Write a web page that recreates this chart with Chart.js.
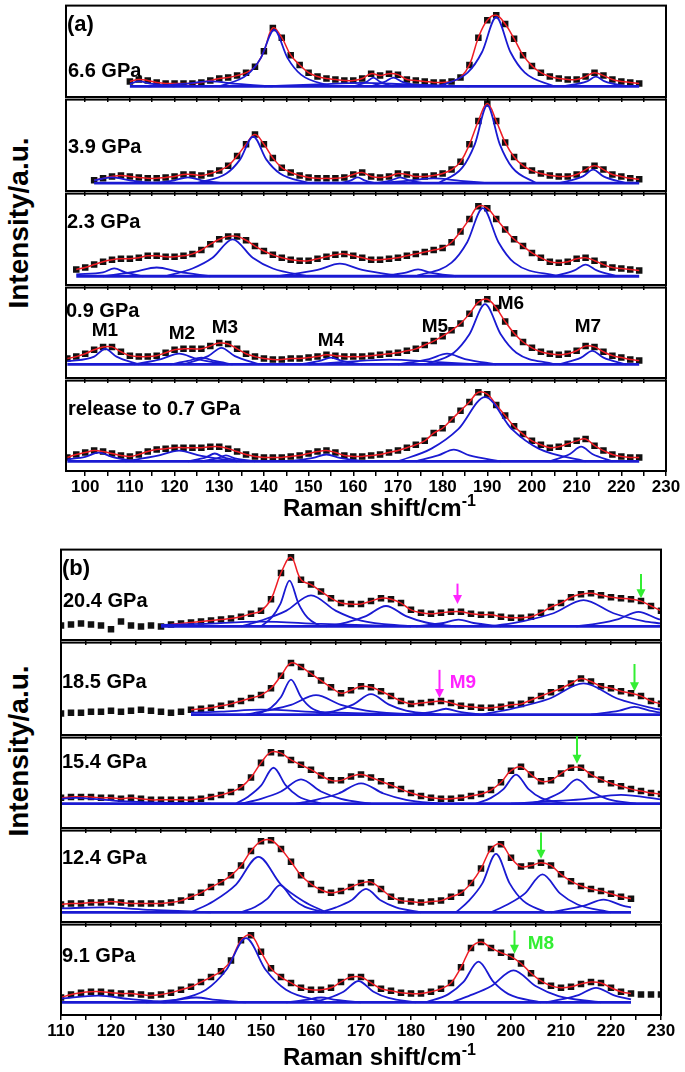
<!DOCTYPE html>
<html lang="en">
<head>
<meta charset="UTF-8">
<title>Raman spectra under pressure</title>
<script src="https://cdn.jsdelivr.net/npm/chart.js"></script>
<style>
  body { margin: 0; background: #fff; }
  #page { position: relative; width: 685px; height: 1072px; overflow: hidden;
          font-family: "Liberation Sans", Arial, sans-serif; font-weight: bold; color: #000; }
  canvas { position: absolute; }
  .lab { position: absolute; font-size: 20px; line-height: 1; white-space: nowrap; transform: translateY(-50%); }
  .mk { position: absolute; font-size: 19px; line-height: 1; transform: translate(-50%, -50%); }
  .xt { position: absolute; font-size: 24px; line-height: 1; white-space: nowrap; transform: translateY(-50%); }
  .xt span { font-size: 16px; position: relative; top: -10px; }
  .yt { position: absolute; font-size: 28px; line-height: 1; white-space: nowrap;
        transform: translate(-50%, -50%) rotate(-90deg); }
</style>
</head>
<body>
<div id="page">
  <div class="lab" style="left:67px;top:24px;font-size:22px">(a)</div>
  <div class="lab" style="left:68px;top:70px">6.6 GPa</div>
  <div class="lab" style="left:68px;top:146px">3.9 GPa</div>
  <div class="lab" style="left:67px;top:221px">2.3 GPa</div>
  <div class="lab" style="left:66px;top:310px">0.9 GPa</div>
  <div class="lab" style="left:68px;top:408px">release to 0.7 GPa</div>
  <div class="mk" style="left:105px;top:329px">M1</div>
  <div class="mk" style="left:182px;top:332px">M2</div>
  <div class="mk" style="left:225px;top:326px">M3</div>
  <div class="mk" style="left:331px;top:339px">M4</div>
  <div class="mk" style="left:435px;top:325px">M5</div>
  <div class="mk" style="left:511px;top:302px">M6</div>
  <div class="mk" style="left:588px;top:325px">M7</div>
  <div class="xt" style="left:283px;top:508px">Raman shift/cm<span>-1</span></div>
  <div class="yt" style="left:19px;top:223px">Intensity/a.u.</div>

  <div class="lab" style="left:62px;top:568px;font-size:22px">(b)</div>
  <div class="lab" style="left:63px;top:600px">20.4 GPa</div>
  <div class="lab" style="left:62px;top:681px">18.5 GPa</div>
  <div class="lab" style="left:62px;top:761px">15.4 GPa</div>
  <div class="lab" style="left:62px;top:857px">12.4 GPa</div>
  <div class="lab" style="left:62px;top:955px">9.1 GPa</div>
  <div class="mk" style="left:463px;top:681px;color:#ff22ff">M9</div>
  <div class="mk" style="left:541px;top:942px;color:#33ee33">M8</div>
  <div class="xt" style="left:283px;top:1057px">Raman shift/cm<span>-1</span></div>
  <div class="yt" style="left:19px;top:751px">Intensity/a.u.</div>
</div>

<script>
// ---- data (intensities, height above each fit baseline) ----
const shiftA = [96, 98, 100, 102, 104, 106, 108, 110, 112, 114, 116, 118, 120, 122, 124, 126, 128, 130, 132, 134,
  136, 138, 140, 142, 144, 146, 148, 150, 152, 154, 156, 158, 160, 162, 164, 166, 168, 170, 172, 174,
  176, 178, 180, 182, 184, 186, 188, 190, 192, 194, 196, 198, 200, 202, 204, 206, 208, 210, 212, 214,
  216, 218, 220, 222, 224];
const shiftB = [110, 112, 114, 116, 118, 120, 122, 124, 126, 128, 130, 132, 134, 136, 138, 140, 142, 144, 146, 148,
  150, 152, 154, 156, 158, 160, 162, 164, 166, 168, 170, 172, 174, 176, 178, 180, 182, 184, 186, 188,
  190, 192, 194, 196, 198, 200, 202, 204, 206, 208, 210, 212, 214, 216, 218, 220, 222, 224, 226, 228, 230];
const ticksA = [100, 105, 110, 115, 120, 125, 130, 135, 140, 145, 150, 155, 160, 165, 170, 175, 180, 185,
  190, 195, 200, 205, 210, 215, 220, 225, 230];
const ticksB = [110, 115, 120, 125, 130, 135, 140, 145, 150, 155, 160, 165, 170, 175, 180, 185,
  190, 195, 200, 205, 210, 215, 220, 225, 230];

const gpa66 = [null, null, null, null, null, null, null, 5, 7, 6, 4, 3, 3, 3, 3, 4, 6, 8, 9, 11,
  14, 20, 36, 60, 50, 32, 22, 14, 10, 8, 7, 6, 6, 8, 13, 11, 13, 12, 7, 6,
  5, 4, 4, 5, 9, 22, 50, 68, 73, 64, 49, 32, 21, 14, 10, 8, 7, 7, 10, 14, 11, 7, 5, 4, 3];
const gpa39 = [null, null, null, 3, 5, 7, 8, 7, 6, 5, 5, 6, 7, 9, 9, 8, 10, 13, 18, 28,
  40, 50, 40, 26, 16, 11, 8, 6, 5, 5, 5, 6, 9, 11, 7, 6, 7, 10, 9, 7,
  7, 8, 10, 14, 22, 40, 64, 82, 64, 42, 27, 18, 13, 10, 8, 7, 7, 9, 14, 18, 14, 9, 7, 5, 4];
const gpa23 = [null, 7, 9, 12, 15, 17, 18, 18, 19, 21, 21, 20, 20, 21, 23, 27, 33, 38, 41, 41,
  37, 31, 26, 22, 19, 17, 16, 16, 18, 20, 22, 23, 21, 19, 17, 17, 18, 19, 21, 23,
  25, 27, 29, 35, 46, 59, 72, 70, 59, 48, 38, 31, 24, 19, 15, 14, 15, 18, 19, 16, 12, 9, 8, 7, 6];
const gpa09 = [6, 8, 11, 15, 18, 18, 13, 9, 8, 8, 9, 12, 15, 16, 16, 16, 19, 22, 21, 16,
  11, 8, 6, 5, 5, 6, 6, 7, 8, 10, 9, 8, 8, 8, 9, 10, 11, 12, 14, 16,
  20, 24, 29, 35, 42, 52, 64, 67, 58, 44, 32, 23, 17, 13, 11, 10, 11, 14, 19, 18, 13, 9, 7, 5, 4];
const release07 = [4, 7, 9, 11, 10, 8, 6, 5, 7, 10, 12, 13, 14, 14, 14, 14, 15, 15, 13, 10,
  7, 5, 4, 4, 4, 5, 6, 8, 10, 11, 9, 6, 5, 5, 6, 7, 9, 11, 14, 17,
  21, 29, 34, 43, 52, 61, 71, 69, 58, 47, 36, 28, 21, 17, 14, 15, 18, 21, 23, 16, 11, 7, 5, 4, 4];

const gpa204 = [1, 2, 3, 2, 1, -3, 5, 1, 0, 1, 0, 2, 3, 4, 5, 6, 7, 8, 10, 13,
  16, 28, 55, 71, 48, 43, 36, 29, 24, 23, 23, 26, 29, 28, 24, 17, 14, 13, 14, 15,
  15, 13, 12, 12, 10, 9, 9, 10, 14, 20, 24, 30, 33, 34, 32, 30, 29, 28, 26, 21, 16];
const gpa185 = [1, 2, 2, 3, 3, 4, 3, 4, 5, 4, 3, 2, 3, 5, 6, 7, 9, 11, 14, 17,
  20, 27, 40, 53, 49, 42, 35, 28, 22, 25, 29, 28, 24, 19, 14, 11, 12, 13, 14, 12,
  9, 8, 7, 7, 8, 10, 11, 15, 19, 23, 27, 32, 37, 34, 29, 27, 24, 22, 19, 14, 11];
const gpa154 = [6, 7, 7, 7, 6, 6, 5, 6, 5, 4, 4, 4, 4, 4, 5, 7, 9, 12, 17, 27,
  42, 53, 52, 45, 40, 35, 29, 24, 24, 28, 30, 27, 23, 19, 15, 11, 8, 6, 5, 5,
  6, 8, 10, 14, 22, 34, 38, 30, 23, 24, 31, 37, 37, 30, 25, 21, 18, 15, 13, 11, 10];
const gpa124 = [8, 9, 9, 10, 10, 11, 10, 9, 9, 9, 9, 10, 12, 16, 20, 26, 31, 38, 48, 63,
  73, 74, 65, 52, 38, 29, 23, 20, 22, 26, 30, 31, 24, 16, 12, 11, 10, 11, 12, 16,
  20, 30, 45, 65, 70, 56, 47, 48, 51, 48, 39, 32, 27, 24, 22, 19, 16, 14, null, null, null];
const gpa91 = [5, 8, 10, 11, 11, 10, 9, 9, 8, 7, 8, 10, 13, 16, 21, 26, 32, 43, 64, 69,
  52, 35, 26, 20, 15, 13, 13, 15, 21, 26, 26, 20, 14, 12, 10, 9, 9, 11, 14, 20,
  36, 56, 62, 56, 51, 47, 40, 30, 22, 17, 15, 16, 19, 21, 20, 15, 11, 9, 8, 8, 8];

// fitted range of each spectrum (red curve and blue baseline)
const fit66 = [110, 224], fit39 = [102, 224], fit23 = [98, 224], fit09 = [96, 224], fit07 = [96, 224];
const fit204 = [130, 230], fit185 = [136, 230], fit154 = [110, 230], fit124 = [110, 224], fit91 = [110, 224];

// fitted components, [shift, intensity] points
const peaks66 = [
  [[130, 0], [136.3, 12], [139.3, 29], [142.3, 58], [145.3, 29], [148.3, 12], [155, 0]],
  [[179, 0], [185.6, 14], [188.8, 35], [192, 71], [195.2, 35], [198.4, 14], [205, 0]],
  [[110, 2.5], [112, 5], [115, 2.5], [120, 0]],
  [[114, 0], [122, 2.5], [128, 5], [134, 2.5], [142, 0]],
  [[160, 0], [163, 4.5], [164.5, 9], [166, 4.5], [169, 0]],
  [[164, 0], [167, 4.5], [169, 9], [171, 4.5], [175, 0]],
  [[207, 0], [212.3, 5], [214.3, 10], [216.3, 5], [221, 0]],
  [[140, 0], [152, 2], [162, 3.5], [172, 2], [186, 0]]
];
const peaks39 = [
  [[125, 0], [131.6, 10], [134.6, 24], [137.6, 48], [140.6, 24], [143.6, 10], [150, 0]],
  [[179, 0], [184.4, 16], [187.2, 40], [190, 80], [192.8, 40], [195.6, 16], [201, 0]],
  [[102, 3], [106, 6], [110, 3], [113, 1], [120, 0]],
  [[115, 0], [120, 3], [123, 6], [126, 3], [131, 0]],
  [[157, 0], [159.5, 3], [161, 6], [162.5, 3], [165, 0]],
  [[165, 0], [168.5, 3], [170.5, 6], [172.5, 3], [176, 0]],
  [[206, 0], [211.4, 7], [213.7, 14], [216, 7], [221, 0]],
  [[166, 0], [172, 2.5], [178, 5], [184, 2.5], [190, 0]]
];
const peaks23 = [
  [[118, 0], [124, 8], [128.5, 19], [133, 38], [137.5, 19], [142, 8], [150, 0]],
  [[174, 0], [182, 14], [185.5, 35], [189, 70], [192.5, 35], [196, 14], [206, 0]],
  [[98, 2], [104, 4], [106.5, 8], [109, 4], [113, 0]],
  [[104, 0], [111, 4.5], [116, 9], [121, 4.5], [128, 0]],
  [[143, 0], [152, 6.5], [157, 13], [162, 6.5], [171, 0]],
  [[166, 0], [171.5, 3.5], [174.5, 7], [177.5, 3.5], [183, 0]],
  [[205, 0], [209.5, 6], [212, 12], [214.5, 6], [219, 0]]
];
const peaks09 = [
  [[96, 3], [102, 8], [104.5, 16], [107, 8], [112, 0]],
  [[111, 0], [117, 5.5], [121, 11], [125, 5.5], [132, 0]],
  [[122, 0], [127.5, 8.5], [130.5, 17], [133.5, 8.5], [139, 0]],
  [[119, 0], [123, 3.5], [126, 7], [129, 3.5], [133, 0]],
  [[148, 0], [152.5, 3.5], [155, 7], [157.5, 3.5], [162, 0]],
  [[170, 0], [177, 5.5], [181, 11], [185, 5.5], [192, 0]],
  [[176, 0], [182.5, 12], [186, 31], [189.5, 62], [193, 31], [196.5, 12], [205, 0]],
  [[206, 0], [211, 7], [213.5, 14], [216, 7], [221, 0]],
  [[150, 0], [158, 2.5], [168, 5], [178, 2.5], [188, 0]]
];
const peaks07 = [
  [[170, 0], [177.5, 13], [183.5, 33], [189.5, 66], [195.5, 33], [201.5, 13], [212, 0]],
  [[174, 0], [179, 6], [182.5, 12], [186, 6], [193, 0]],
  [[204, 0], [208.5, 7.5], [211, 15], [213.5, 7.5], [218, 0]],
  [[96, 2], [100, 4.5], [103, 9], [106, 4.5], [111, 0]],
  [[109, 0], [116, 5.5], [121, 11], [126, 5.5], [134, 0]],
  [[123, 0], [127, 4], [129, 8], [131, 4], [135, 0]],
  [[126, 0], [129.5, 3], [131.5, 6], [133.5, 3], [138, 0]],
  [[146, 0], [151, 3.5], [154, 7], [157, 3.5], [162, 0]]
];
const peaks204 = [
  [[150, 0], [152.1, 9], [153.9, 23.5], [155.7, 47], [157.5, 23.5], [159.3, 9], [162, 0]],
  [[146, 0], [150, 6], [155, 16], [160, 32], [165, 16], [170, 6], [180, 0]],
  [[163, 0], [167, 4], [171, 10.5], [175, 21], [179, 10.5], [183, 4], [189, 0]],
  [[181, 0], [186.5, 3.5], [189.5, 7], [192.5, 3.5], [198, 0]],
  [[196, 0], [202.5, 5.5], [208.5, 13.5], [214.5, 27], [220.5, 13.5], [226.5, 5.5], [230, 3]],
  [[213, 0], [217.5, 3], [221.5, 7.5], [225.5, 15], [229.5, 7.5], [230, 7]],
  [[130, 1.5], [138, 2.5], [150, 5], [162, 2.5], [180, 0]]
];
const peaks185 = [
  [[149, 0], [152, 7], [154, 18], [156, 36], [158, 18], [160, 7], [164, 0]],
  [[147, 0], [151, 4], [156, 10], [161, 20], [166, 10], [171, 4], [180, 0]],
  [[161, 0], [165, 4], [168.5, 10.5], [172, 21], [175.5, 10.5], [179, 4], [186, 0]],
  [[180, 0], [184.5, 3], [187, 6], [189.5, 3], [194, 0]],
  [[194, 0], [200.5, 6.5], [207.5, 16], [214.5, 32], [221.5, 16], [228.5, 6.5], [230, 5]],
  [[216, 0], [221.7, 4], [224.7, 8], [227.7, 4], [230, 2]],
  [[136, 2], [142, 3], [150, 5], [162, 2.5], [180, 0]]
];
const peaks154 = [
  [[145, 0], [147.5, 7.5], [150, 18.5], [152.5, 37], [155, 18.5], [157.5, 7.5], [162, 0]],
  [[146, 0], [150, 5], [154, 12.5], [158, 25], [162, 12.5], [166, 5], [172, 0]],
  [[157, 0], [161, 4], [165.5, 10.5], [170, 21], [174.5, 10.5], [179, 4], [186, 0]],
  [[193, 0], [196, 6], [198.5, 15], [201, 30], [203.5, 15], [206, 6], [211, 0]],
  [[204, 0], [207.2, 5], [210.2, 12.5], [213.2, 25], [216.2, 12.5], [219.2, 5], [225, 0]],
  [[200, 0], [206, 2], [214, 4.5], [222, 9], [230, 4.5]],
  [[110, 5], [113, 6], [121, 3], [130, 1], [140, 0]]
];
const peaks124 = [
  [[136, 0], [140.5, 11.4], [145, 28.5], [149.5, 57], [154, 28.5], [158.5, 11.4], [163, 0]],
  [[146, 0], [148.8, 5.5], [151.3, 14], [153.8, 28], [156.3, 14], [158.8, 5.5], [163, 0]],
  [[162, 0], [165, 5], [168, 12], [171, 24], [174, 12], [177, 5], [182, 0]],
  [[189, 0], [191.6, 12], [194.3, 30], [197, 60], [199.7, 30], [202.4, 12], [207, 0]],
  [[196, 0], [199.3, 8], [202.8, 19.5], [206.3, 39], [209.8, 19.5], [213.3, 8], [220, 0]],
  [[208, 0], [210.5, 2.5], [214.5, 6.5], [218.5, 13], [222.5, 6.5], [224, 5]],
  [[110, 4], [118, 5], [128, 2.5], [140, 0]]
];
const peaks91 = [
  [[131, 0], [139, 13], [143, 33], [147, 66], [151, 33], [155, 13], [163, 0]],
  [[110, 4], [117.5, 7], [123.5, 3.5], [131, 0]],
  [[127, 0], [133, 2.5], [137, 5], [141, 2.5], [147, 0]],
  [[155, 0], [159, 2.5], [162, 5], [165, 2.5], [170, 0]],
  [[160, 0], [163.5, 4.5], [166.5, 11], [169.5, 22], [172.5, 11], [175.5, 4.5], [181, 0]],
  [[183, 0], [187.5, 8.5], [190.5, 21], [193.5, 42], [196.5, 21], [199.5, 8.5], [206, 0]],
  [[188, 0], [191.5, 6.5], [196, 16.5], [200.5, 33], [205, 16.5], [209.5, 6.5], [218, 0]],
  [[207, 0], [210, 3], [213.5, 7.5], [217, 15], [220.5, 7.5], [224, 3]]
];

// new-mode arrows: shift, start and end intensity
const arrows204 = [[189.3, 44, 23, 'm'], [226, 54, 29, 'g']];
const arrows185 = [[185.7, 46, 17, 'm'], [224.7, 52, 24, 'g']];
const arrows154 = [[213.2, 70, 41, 'g']];
const arrows124 = [[206, 82, 55, 'g']];
const arrows91 = [[200.7, 74, 50, 'g']];

const BLUE = '#1a1ad2', RED = '#ee1c24';
const ARROW = { m: '#ff22ff', g: '#33ee33' };

// ---- layout ----
const panels = [
  { shift: shiftA, range: [95.7, 230], ticks: ticksA, left: 66, rows: [3, 97, 191, 285, 378, 471],
    subplots: [
      { spec: gpa66, fit: fit66, peaks: peaks66, base: 11, arrows: [] },
      { spec: gpa39, fit: fit39, peaks: peaks39, base: 8, arrows: [] },
      { spec: gpa23, fit: fit23, peaks: peaks23, base: 9, arrows: [] },
      { spec: gpa09, fit: fit09, peaks: peaks09, base: 14, arrows: [] },
      { spec: release07, fit: fit07, peaks: peaks07, base: 10, arrows: [] }
    ] },
  { shift: shiftB, range: [110, 230], ticks: ticksB, left: 61, rows: [547, 640, 735, 828, 922, 1015],
    subplots: [
      { spec: gpa204, fit: fit204, peaks: peaks204, base: 14, arrows: arrows204 },
      { spec: gpa185, fit: fit185, peaks: peaks185, base: 21, arrows: arrows185 },
      { spec: gpa154, fit: fit154, peaks: peaks154, base: 25, arrows: arrows154 },
      { spec: gpa124, fit: fit124, peaks: peaks124, base: 10, arrows: arrows124 },
      { spec: gpa91, fit: fit91, peaks: peaks91, base: 13, arrows: arrows91 }
    ] }
];

// box around each plot + the arrows
const framePlugin = {
  id: 'frame',
  afterDraw(chart, args, opts) {
    const { ctx, chartArea: a } = chart;
    ctx.save();
    ctx.strokeStyle = '#000';
    ctx.lineWidth = 2;
    ctx.strokeRect(a.left, a.top, a.right - a.left, a.bottom - a.top);
    for (const [at, from, to, c] of opts.arrows) {
      const x = chart.scales.x.getPixelForValue(at);
      const y0 = chart.scales.y.getPixelForValue(from);
      const y1 = chart.scales.y.getPixelForValue(to);
      ctx.strokeStyle = ctx.fillStyle = ARROW[c];
      ctx.lineWidth = 2;
      ctx.beginPath();
      ctx.moveTo(x, y0);
      ctx.lineTo(x, y1 - 6);
      ctx.stroke();
      ctx.beginPath();
      ctx.moveTo(x - 4.5, y1 - 9);
      ctx.lineTo(x + 4.5, y1 - 9);
      ctx.lineTo(x, y1);
      ctx.closePath();
      ctx.fill();
    }
    ctx.restore();
  }
};

const page = document.getElementById('page');

function makeChart(panel, k) {
  const sp = panel.subplots[k];
  const last = k === panel.subplots.length - 1;
  const top = panel.rows[k], h = panel.rows[k + 1] - top;
  const axisH = last ? 34 : 6;

  const cv = document.createElement('canvas');
  cv.width = 640;
  cv.height = h + 2 + axisH;
  cv.style.left = (panel.left - 20) + 'px';
  cv.style.top = (top - 2) + 'px';
  page.insertBefore(cv, page.firstChild);

  const pts = panel.shift.map((x, i) => ({ x, y: sp.spec[i] })).filter(p => p.y !== null);
  const fitPts = pts.filter(p => p.x >= sp.fit[0] && p.x <= sp.fit[1]);

  // lower order is drawn on top: blue components, then red fit, then the data squares
  const datasets = sp.peaks.map(pk => ({
    data: pk.map(([x, y]) => ({ x, y })),
    borderColor: BLUE, borderWidth: 1.8, pointRadius: 0,
    cubicInterpolationMode: 'monotone', order: 0
  }));
  datasets.push({ data: sp.fit.map(x => ({ x, y: 0 })), borderColor: BLUE, borderWidth: 2.8, pointRadius: 0, order: 0 });
  datasets.push({ data: fitPts, borderColor: RED, borderWidth: 1.5, pointRadius: 0, tension: 0.4, order: 1 });
  datasets.push({ data: pts, showLine: false, pointStyle: 'rect', pointRadius: 4.6,
    pointBackgroundColor: '#111', pointBorderWidth: 0, order: 2 });

  new Chart(cv, {
    type: 'line',
    data: { datasets },
    plugins: [framePlugin],
    options: {
      responsive: false,
      animation: false,
      events: [],
      layout: { padding: { left: 20, right: 20, top: 2, bottom: 0 } },
      plugins: { legend: { display: false }, tooltip: { enabled: false }, frame: { arrows: sp.arrows } },
      scales: {
        x: {
          type: 'linear', min: panel.range[0], max: panel.range[1], bounds: 'data',
          afterBuildTicks: s => { s.ticks = panel.ticks.map(v => ({ value: v })); },
          afterFit: s => { s.height = axisH; },
          border: { display: false },
          grid: { drawOnChartArea: false, tickLength: 5, color: '#000', lineWidth: 1.5 },
          ticks: {
            display: last, autoSkip: false, maxRotation: 0, padding: 1, color: '#000',
            font: { family: '"Liberation Sans", Arial, sans-serif', size: 17, weight: 'bold' },
            callback: v => (v % 10 === 0 ? v : '')
          }
        },
        y: { display: false, min: -sp.base, max: h - sp.base }
      }
    }
  });
}

panels.forEach(p => p.subplots.forEach((_, k) => makeChart(p, k)));
</script>
</body>
</html>
